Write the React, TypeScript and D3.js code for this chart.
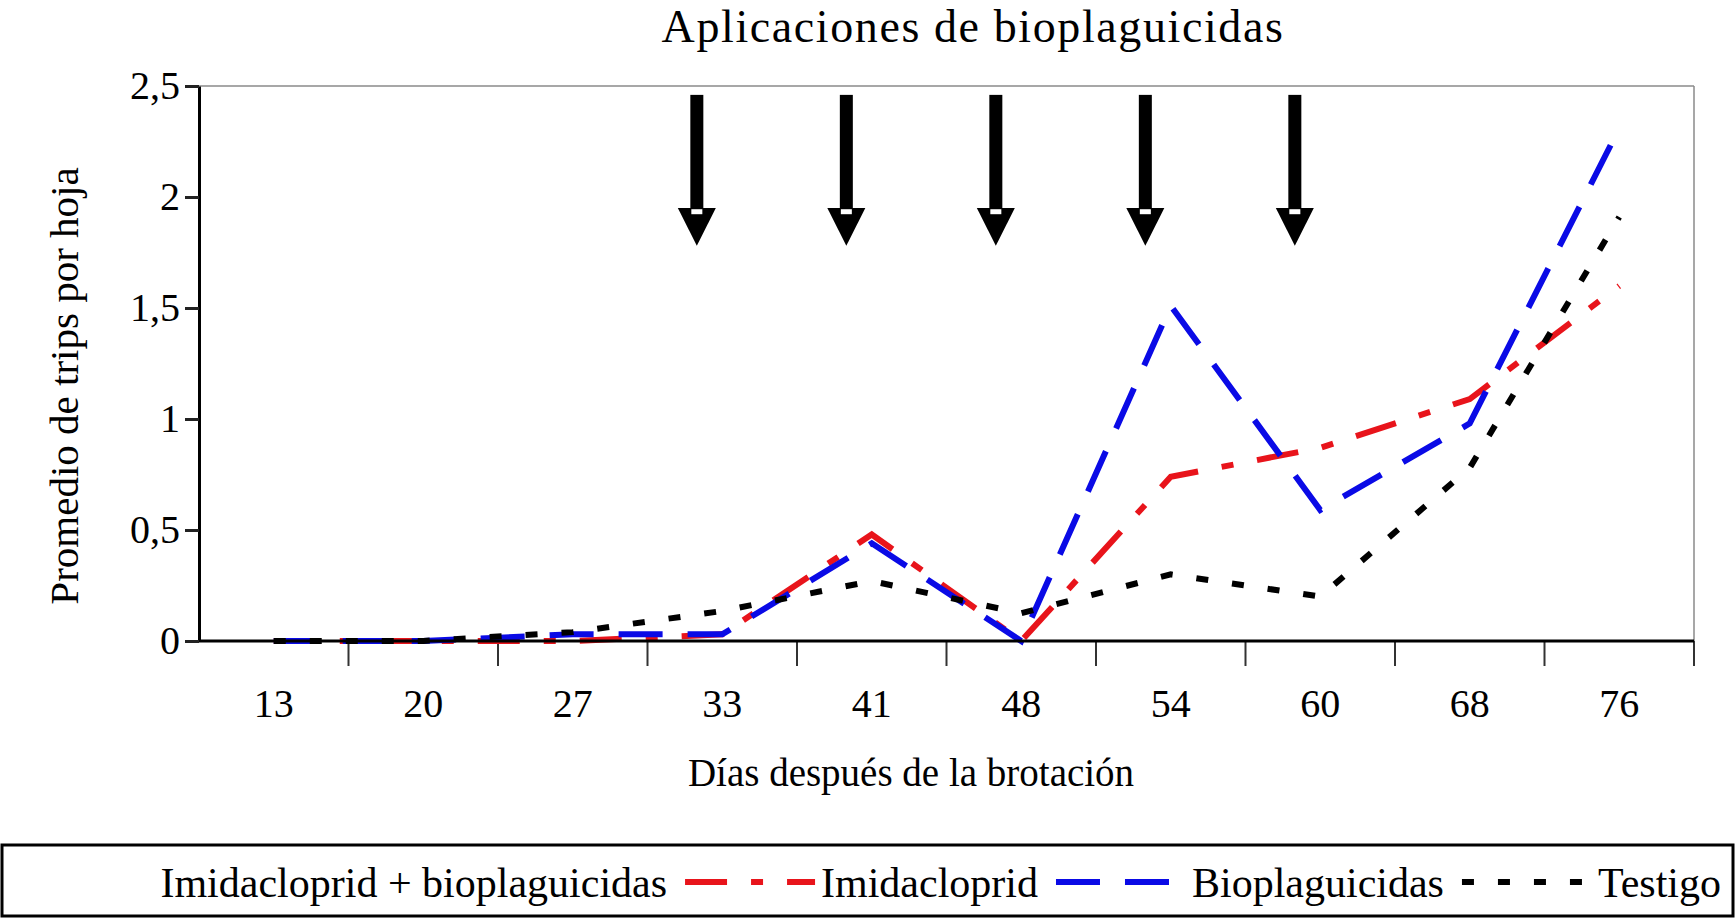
import React, { useRef, useEffect } from "react";
import * as d3 from "d3";

// días después de la brotación (categorías del eje x)
const days = ["13", "20", "27", "33", "41", "48", "54", "60", "68", "76"];

// promedio de trips por hoja
const imidacloprid = [0, 0, 0, 0.03, 0.48, 0, 0.74, 0.87, 1.09, 1.6];
const bioplaguicidas = [0, 0, 0.03, 0.03, 0.44, 0, 1.51, 0.59, 0.98, 2.31];
const testigo = [0, 0, 0.04, 0.135, 0.27, 0.125, 0.3, 0.2, 0.78, 1.91];

// días con aplicación (flechas)
const applicationDays = ["33", "41", "48", "54", "60"];

const yTicks = [0, 0.5, 1, 1.5, 2, 2.5];

const legendNames = [
  "Imidacloprid + bioplaguicidas",
  "Imidacloprid",
  "Bioplaguicidas",
  "Testigo",
];

const FONT = "'Liberation Serif', 'Times New Roman', serif";

export default function App() {
  const ref = useRef<SVGSVGElement>(null);

  useEffect(() => {
    const svg = d3.select(ref.current);
    svg.selectAll("*").remove();

    const m = { left: 199, right: 1694, top: 86, bottom: 641 };
    const x = d3.scaleBand().domain(days).range([m.left, m.right]).padding(0);
    const y = d3.scaleLinear().domain([0, 2.5]).range([m.bottom, m.top]);
    const bw = x.bandwidth();
    const cx = (d: string) => (x(d) as number) + bw / 2;

    const locale = d3.formatLocale({
      decimal: ",",
      thousands: ".",
      grouping: [3],
      currency: ["", ""],
    });
    const fmt = locale.format("~g");

    // marco gris arriba y a la derecha
    svg.append("line")
      .attr("x1", m.left).attr("x2", m.right)
      .attr("y1", m.top).attr("y2", m.top)
      .attr("stroke", "#8a8a8a").attr("stroke-width", 1.5);
    svg.append("line")
      .attr("x1", m.right).attr("x2", m.right)
      .attr("y1", m.top).attr("y2", m.bottom)
      .attr("stroke", "#8a8a8a").attr("stroke-width", 1.5);

    // eje y
    const yAxis = svg.append("g")
      .attr("transform", `translate(${m.left},0)`)
      .call(
        d3.axisLeft(y)
          .tickValues(yTicks)
          .tickSize(14)
          .tickSizeOuter(0)
          .tickPadding(5)
          .tickFormat((d) => fmt(d as number))
      );
    yAxis.select(".domain").attr("stroke", "#000").attr("stroke-width", 3);
    yAxis.selectAll(".tick line").attr("stroke", "#222").attr("stroke-width", 3);
    yAxis.selectAll(".tick text")
      .attr("font-family", FONT)
      .attr("font-size", 40)
      .attr("fill", "#000");

    // eje x: marcas en los límites de cada categoría, etiquetas al centro
    svg.append("g")
      .selectAll("line")
      .data(days)
      .join("line")
      .attr("x1", (d) => (x(d) as number) + bw)
      .attr("x2", (d) => (x(d) as number) + bw)
      .attr("y1", m.bottom)
      .attr("y2", m.bottom + 25)
      .attr("stroke", "#333")
      .attr("stroke-width", 2);

    svg.append("g")
      .selectAll("text")
      .data(days)
      .join("text")
      .attr("x", (d) => cx(d))
      .attr("y", 717)
      .attr("text-anchor", "middle")
      .attr("font-family", FONT)
      .attr("font-size", 40)
      .text((d) => d);

    // líneas de las series
    const series = [
      { values: imidacloprid, color: "#e8141b", dash: "42,24,12,24" },
      { values: bioplaguicidas, color: "#0a0ae6", dash: "44,25" },
      { values: testigo, color: "#000", dash: "12,24" },
    ];
    const line = d3.line<number>()
      .x((_, i) => cx(days[i]))
      .y((d) => y(d));

    svg.append("g")
      .selectAll("path")
      .data(series)
      .join("path")
      .attr("d", (s) => line(s.values))
      .attr("fill", "none")
      .attr("stroke", (s) => s.color)
      .attr("stroke-width", 6)
      .attr("stroke-dasharray", (s) => s.dash)
      .attr("stroke-linejoin", "miter");

    svg.append("line")
      .attr("x1", m.left).attr("x2", m.right)
      .attr("y1", m.bottom).attr("y2", m.bottom)
      .attr("stroke", "#000").attr("stroke-width", 3);

    // flechas de aplicación
    const arrows = svg.append("g")
      .selectAll("g")
      .data(applicationDays)
      .join("g")
      .attr("transform", (d) => `translate(${(x(d) as number) + bw * 0.33},0)`);
    arrows.append("rect")
      .attr("x", -6.5).attr("width", 13)
      .attr("y", y(2.46)).attr("height", y(1.94) - y(2.46))
      .attr("fill", "#000");
    arrows.append("path")
      .attr("d", `M-19,${y(1.95)} L19,${y(1.95)} L0,${y(1.78)} Z`)
      .attr("fill", "#000");
    arrows.append("rect")
      .attr("x", -5.5).attr("width", 11)
      .attr("y", y(1.945)).attr("height", 5)
      .attr("fill", "#fff");

    // títulos
    svg.append("text")
      .attr("x", 973).attr("y", 42)
      .attr("text-anchor", "middle")
      .attr("font-family", FONT).attr("font-size", 46)
      .attr("letter-spacing", 1.6)
      .text("Aplicaciones de bioplaguicidas");

    svg.append("text")
      .attr("x", 911).attr("y", 786)
      .attr("text-anchor", "middle")
      .attr("font-family", FONT).attr("font-size", 39)
      .text("Días después de la brotación");

    svg.append("text")
      .attr("transform", "translate(78,386) rotate(-90)")
      .attr("text-anchor", "middle")
      .attr("font-family", FONT).attr("font-size", 41)
      .text("Promedio de trips por hoja");

    // leyenda
    svg.append("rect")
      .attr("x", 2).attr("y", 845)
      .attr("width", 1731).attr("height", 71)
      .attr("fill", "#fff").attr("stroke", "#000").attr("stroke-width", 3);

    const legendItems = [
      { name: legendNames[0], color: "none", dash: "" },
      { name: legendNames[1], color: series[0].color, dash: series[0].dash },
      { name: legendNames[2], color: series[1].color, dash: series[1].dash },
      { name: legendNames[3], color: series[2].color, dash: series[2].dash },
    ];
    const sampleW = 130;
    const leg = svg.append("g");
    let pos = 0;
    legendItems.forEach((it) => {
      const g = leg.append("g").attr("transform", `translate(${pos},0)`);
      g.append("line")
        .attr("x1", 0).attr("x2", sampleW)
        .attr("y1", -15).attr("y2", -15)
        .attr("stroke", it.color)
        .attr("stroke-width", 6)
        .attr("stroke-dasharray", it.dash);
      const t = g.append("text")
        .attr("x", sampleW + 6)
        .attr("font-family", FONT)
        .attr("font-size", 42)
        .text(it.name);
      const w = (t.node() as SVGTextElement).getComputedTextLength();
      pos += sampleW + 6 + w + 18;
    });
    leg.attr("transform", `translate(${1721 - (pos - 18)},897)`);
  }, []);

  return (
    <svg
      ref={ref}
      width={1736}
      height={918}
      style={{ position: "absolute", left: 0, top: 0, background: "#fff" }}
    />
  );
}
